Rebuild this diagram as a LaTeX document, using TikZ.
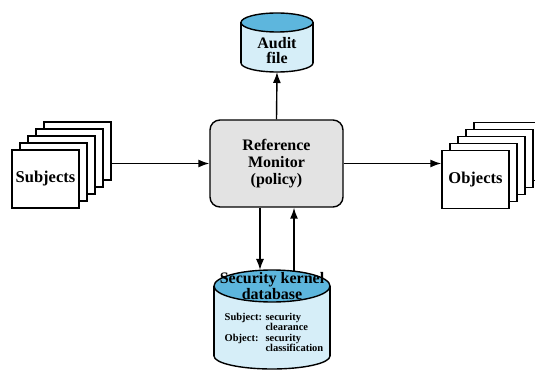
\documentclass[tikz,border=0pt]{standalone}
\usepackage{fontspec}
\setmainfont{Liberation Serif}
\usetikzlibrary{arrows.meta}
\definecolor{boxgray}{HTML}{E3E3E3}
\definecolor{dbtop}{HTML}{5DB6DD}
\definecolor{dbbody}{HTML}{D6EEF8}
\tikzset{
  fleche/.style={line width=1.4pt, -{Latex[length=11pt,width=8pt]}},
  feuille/.style={rectangle, draw, line width=1.4pt, fill=white, minimum width=67pt, minimum height=58pt, font=\bfseries\fontsize{16.5}{18}\selectfont},
  trait/.style={line width=1.4pt}
}
\begin{document}
\begin{tikzpicture}
	\begin{scope}[x=1pt,y=-1pt]
	\clip (0,0) rectangle (535,371);
	% la base de donnees du noyau
	\filldraw[trait, fill=dbbody] (272,356) ellipse [x radius=58, y radius=13];
	\fill[dbbody] (214,286) rectangle (330,356);
	\draw[trait] (214,286) -- (214,356);
	\draw[trait] (330,286) -- (330,356);
	\filldraw[trait, fill=dbtop] (272,286) ellipse [x radius=58, y radius=16];
	\node (K) at (272,286) [inner sep=0, align=center, font=\bfseries\fontsize{16}{12.5}\selectfont] {Security kernel\\database};
	\node (D) at (274,334) [inner sep=0, font=\bfseries\fontsize{10.5}{10}\selectfont]
	  {\begin{tabular}{@{}l@{ }l@{}}Subject: & security\\ & clearance\\Object: & security\\ & classification\end{tabular}};
	% le fichier d'audit
	\filldraw[trait, fill=dbbody] (277,63) ellipse [x radius=36, y radius=9];
	\fill[dbbody] (241,22.5) rectangle (313,63);
	\draw[trait] (241,22.5) -- (241,63);
	\draw[trait] (313,22.5) -- (313,63);
	\filldraw[trait, fill=dbtop] (277,22.5) ellipse [x radius=36, y radius=9.5];
	\node (F) at (277,51) [inner sep=0, align=center, font=\bfseries\fontsize{16}{15}\selectfont] {Audit\\file};
	\coordinate (Fb) at (277,72);
	\coordinate (Kin) at (260,270);
	\coordinate (Kout) at (294,271);
	% le moniteur
	\node (M) at (276.5,163.5) [rectangle, rounded corners=10pt, draw, line width=1.4pt, fill=boxgray, minimum width=133pt, minimum height=87pt, align=center, font=\bfseries\fontsize{16}{17}\selectfont] {Reference\\Monitor\\(policy)};
	% les piles
	\foreach \i in {4,3,2,1} {
	  \node (S\i) at (45.5+8*\i,179-7*\i) [feuille] {};
	  \node (O\i) at (475.5+8*\i,179.5-7*\i) [feuille] {};
	}
	\node (S0) at (45.5,179) [feuille] {Subjects};
	\node (O0) at (475.5,179.5) [feuille] {Objects};
	\draw[fleche] (M.west -| S4.east) -- (M.west);
	\draw[fleche] (M.east) -- (M.east -| O0.west);
	\draw[fleche] (M.north) -- (Fb);
	\draw[fleche] (M.south -| Kin) -- (Kin);
	\draw[fleche] (Kout) -- (Kout |- M.south);
	\end{scope}
\end{tikzpicture}
\end{document}
